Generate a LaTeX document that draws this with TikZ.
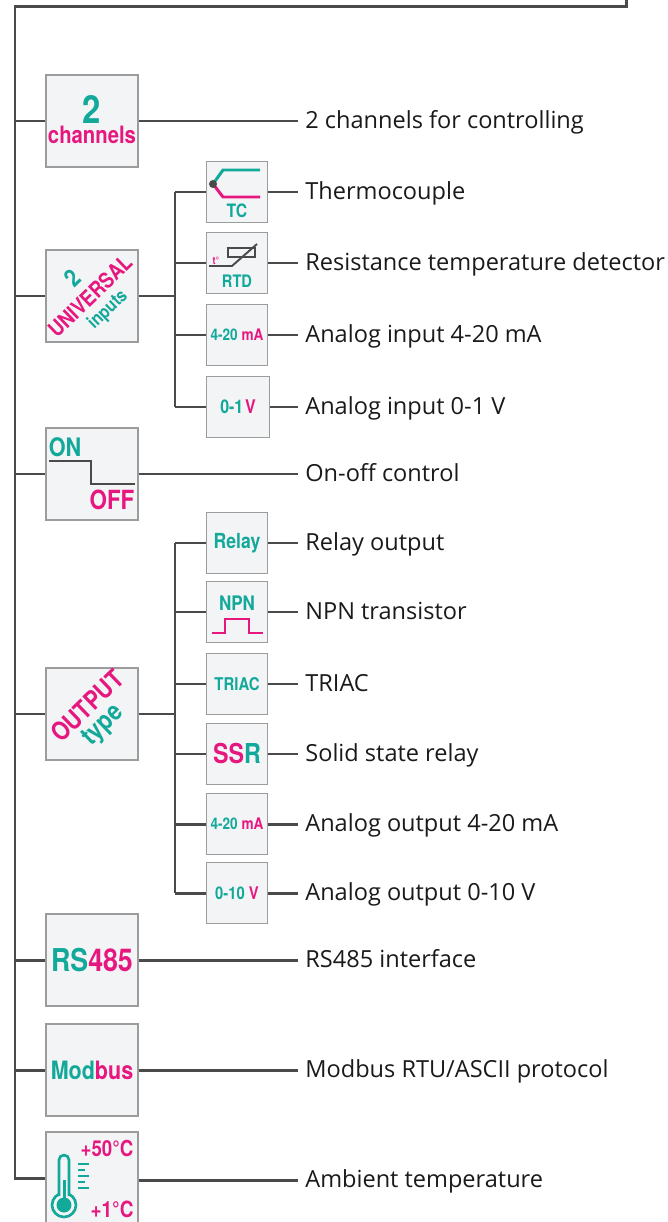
\documentclass[tikz,border=0pt]{standalone}
\usepackage{fontspec}
\setmainfont{Open Sans}
\newfontfamily\iconfont[FakeStretch=0.85]{TeX Gyre Heros}
\usetikzlibrary{positioning}

\definecolor{tealc}{HTML}{12A89A}
\definecolor{pinkc}{HTML}{E6177F}
\definecolor{wiregray}{HTML}{4A4A4A}
\definecolor{boxline}{HTML}{9C9C9C}
\definecolor{boxfill}{HTML}{F3F4F6}
\definecolor{labeltext}{HTML}{1A1A1A}

\newcommand{\ic}[2]{{\iconfont\bfseries\fontsize{#1}{#1}\selectfont #2}}

\begin{document}
\begin{tikzpicture}[x=0.02cm, y=-0.02cm,
  wire/.style={draw=wiregray, line width=1.7pt},
  bigbox/.style={rectangle, draw=boxline, fill=boxfill, line width=0.8pt, minimum width=1.84cm, minimum height=1.84cm, inner sep=0pt},
  smallbox/.style={bigbox, minimum width=1.22cm, minimum height=1.22cm},
  feature/.style={anchor=west, inner xsep=4pt, inner ysep=0pt, text height=11pt, text depth=2pt, text=labeltext, font=\fontsize{13.4}{16}\selectfont},
  icontext/.style={inner sep=0pt},
  ]
  \useasboundingbox (0,0) rectangle (667,1222);

  %nodes
  \node at (92, 121) [bigbox] (chan) {};
  \node at (92, 110) [icontext, text=tealc] (chantwo) {\ic{22}{2}};
  \node at (92, 135) [icontext, text=pinkc] (chanword) {\ic{13.6}{channels}};

  \node at (92, 296) [bigbox] (univ) {};
  \node at (72, 278) [icontext, text=tealc, rotate=44] (univtwo) {\ic{14}{2}};
  \node at (90, 296) [icontext, text=pinkc, rotate=44] (univword) {\ic{12.4}{UNIVERSAL}};
  \node at (108, 310) [icontext, text=tealc, rotate=44] (univinp) {\ic{10.5}{inputs}};

  \node at (92, 474) [bigbox] (onoff) {};
  \node at (65, 447) [icontext, text=tealc] (ontext) {\ic{14.5}{ON}};
  \node at (112, 500) [icontext, text=pinkc] (offtext) {\ic{15}{OFF}};

  \node at (92, 714) [bigbox] (outp) {};
  \node at (87, 706) [icontext, text=pinkc, rotate=44] (outword) {\ic{14.6}{OUTPUT}};
  \node at (104, 726) [icontext, text=tealc, rotate=44] (outtype) {\ic{15}{type}};

  \node at (92, 960) [bigbox, text=tealc] (rs) {\ic{17.9}{RS\textcolor{pinkc}{485}}};
  \node at (92, 1070) [bigbox, text=tealc] (modb) {\ic{14.4}{Mod\textcolor{pinkc}{bus}}};

  \node at (92, 1178) [bigbox] (therm) {};
  \node at (107, 1148) [icontext, text=pinkc] (thermhi) {\ic{12.5}{+50°C}};
  \node at (112, 1209) [icontext, text=pinkc] (thermlo) {\ic{12.7}{+1°C}};

  % inputs
  \node at (237, 192) [smallbox] (tc) {};
  \node at (237, 211) [icontext, text=tealc] (tctext) {\ic{10.5}{TC}};
  \node at (237, 263) [smallbox] (rtd) {};
  \node at (237, 281) [icontext, text=tealc] (rtdtext) {\ic{9.8}{RTD}};
  \node at (216, 261) [icontext, text=pinkc] (rtdt) {\ic{6}{t°}};
  \node at (237, 335) [smallbox, text=tealc] (main) {\ic{9.1}{4-20 \textcolor{pinkc}{mA}}};
  \node at (238, 407) [smallbox, minimum width=1.26cm, text=tealc] (vin) {\ic{10.7}{0-1\kern1pt\textcolor{pinkc}{V}}};

  % outputs
  \node at (237, 543) [smallbox, text=tealc] (relay) {\ic{11.8}{Relay}};
  \node at (237, 612) [smallbox] (npn) {};
  \node at (237, 603) [icontext, text=tealc] (npntext) {\ic{11.4}{NPN}};
  \node at (237, 684) [smallbox, text=tealc] (triac) {\ic{10}{TRIAC}};
  \node at (237, 754) [smallbox, text=pinkc] (ssr) {\ic{15.6}{SS\textcolor{tealc}{R}}};
  \node at (237, 824) [smallbox, text=tealc] (maout) {\ic{9.1}{4-20 \textcolor{pinkc}{mA}}};
  \node at (237, 893) [smallbox, text=tealc] (vout) {\ic{9.9}{0-10 \textcolor{pinkc}{V}}};

  % feature labels
  \node at (298, 121) [feature] (chanlbl) {2 channels for controlling};
  \node at (298, 192) [feature] (tclbl) {Thermocouple};
  \node at (298, 263) [feature] (rtdlbl) {Resistance temperature detector};
  \node at (298, 335) [feature] (mainlbl) {Analog input 4-20 mA};
  \node at (298, 407) [feature] (vinlbl) {Analog input 0-1 V};
  \node at (298, 474) [feature] (onofflbl) {On-off control};
  \node at (298, 543) [feature] (relaylbl) {Relay output};
  \node at (298, 612) [feature] (npnlbl) {NPN transistor};
  \node at (298, 684) [feature] (triaclbl) {TRIAC};
  \node at (298, 754) [feature] (ssrlbl) {Solid state relay};
  \node at (298, 824) [feature] (maoutlbl) {Analog output 4-20 mA};
  \node at (298, 893) [feature] (voutlbl) {Analog output 0-10 V};
  \node at (298, 960) [feature] (rslbl) {RS485 interface};
  \node at (298, 1070) [feature] (modblbl) {Modbus RTU/ASCII protocol};
  \node at (298, 1180) [feature] (thermlbl) {Ambient temperature};

  % icon drawings
  \draw[tealc, line width=1.7pt] (260, 170) -- (223, 170) -- (213, 184);
  \draw[pinkc, line width=1.7pt] (213, 184) -- (223, 197) -- (260, 197);
  \fill[wiregray] (213, 184) circle (0.08cm);
  \draw[wiregray, line width=1.1pt] (228, 248) rectangle (255, 257);
  \draw[wiregray, line width=1.1pt] (209, 266) -- (232, 266) -- (257, 244);
  \draw[wiregray, line width=1.7pt] (49, 461) -- (91, 461) -- (91, 484) -- (135, 484);
  \draw[pinkc, line width=1.4pt] (212, 633) -- (225, 633) -- (225, 619) -- (249, 619) -- (249, 633) -- (263, 633);
  \draw[tealc, line width=1.5pt, fill=boxfill] (64, 1205) circle (0.24cm);
  \draw[tealc, line width=1.5pt, fill=boxfill, rounded corners=0.1cm] (59, 1196) -- (59, 1155) -- (69, 1155) -- (69, 1196);
  \fill[tealc] (62.5, 1180) rectangle (65.5, 1200);
  \fill[tealc] (64, 1205) circle (0.15cm);
  \foreach \ty/\tx in {1164/89, 1170/85, 1176/89, 1182/85, 1188/89}
    \draw[tealc, line width=1.2pt] (78, \ty) -- (\tx, \ty);

  %edges
  \coordinate (feed) at (626, -2);
  \coordinate (corner) at (15, 7);
  \coordinate (inbus) at (175, 192);
  \coordinate (outbus) at (175, 543);
  \draw[wire] (feed) |- (corner) |- (therm.west);
  \draw[wire] (corner |- chan.west) -- (chan.west);
  \draw[wire] (corner |- univ.west) -- (univ.west);
  \draw[wire] (corner |- onoff.west) -- (onoff.west);
  \draw[wire] (corner |- outp.west) -- (outp.west);
  \draw[wire] (corner |- rs.west) -- (rs.west);
  \draw[wire] (corner |- modb.west) -- (modb.west);

  \draw[wire] (chan.east) -- (chanlbl.west);
  \draw[wire] (onoff.east) -- (onofflbl.west);
  \draw[wire] (rs.east) -- (rslbl.west);
  \draw[wire] (modb.east) -- (modblbl.west);
  \draw[wire] (therm.east |- thermlbl.west) -- (thermlbl.west);

  \draw[wire] (univ.east) -- (inbus |- univ.east);
  \draw[wire] (inbus |- tc.west) -- (inbus |- vin.west);
  \draw[wire] (inbus |- tc.west) -- (tc.west);
  \draw[wire] (inbus |- rtd.west) -- (rtd.west);
  \draw[wire] (inbus |- main.west) -- (main.west);
  \draw[wire] (inbus |- vin.west) -- (vin.west);
  \draw[wire] (tc.east) -- (tclbl.west);
  \draw[wire] (rtd.east) -- (rtdlbl.west);
  \draw[wire] (main.east) -- (mainlbl.west);
  \draw[wire] (vin.east) -- (vinlbl.west);

  \draw[wire] (outp.east) -- (outbus |- outp.east);
  \draw[wire] (outbus |- relay.west) -- (outbus |- vout.west);
  \draw[wire] (outbus |- relay.west) -- (relay.west);
  \draw[wire] (outbus |- npn.west) -- (npn.west);
  \draw[wire] (outbus |- triac.west) -- (triac.west);
  \draw[wire] (outbus |- ssr.west) -- (ssr.west);
  \draw[wire] (outbus |- maout.west) -- (maout.west);
  \draw[wire] (outbus |- vout.west) -- (vout.west);
  \draw[wire] (relay.east) -- (relaylbl.west);
  \draw[wire] (npn.east) -- (npnlbl.west);
  \draw[wire] (triac.east) -- (triaclbl.west);
  \draw[wire] (ssr.east) -- (ssrlbl.west);
  \draw[wire] (maout.east) -- (maoutlbl.west);
  \draw[wire] (vout.east) -- (voutlbl.west);
\end{tikzpicture}
\end{document}
